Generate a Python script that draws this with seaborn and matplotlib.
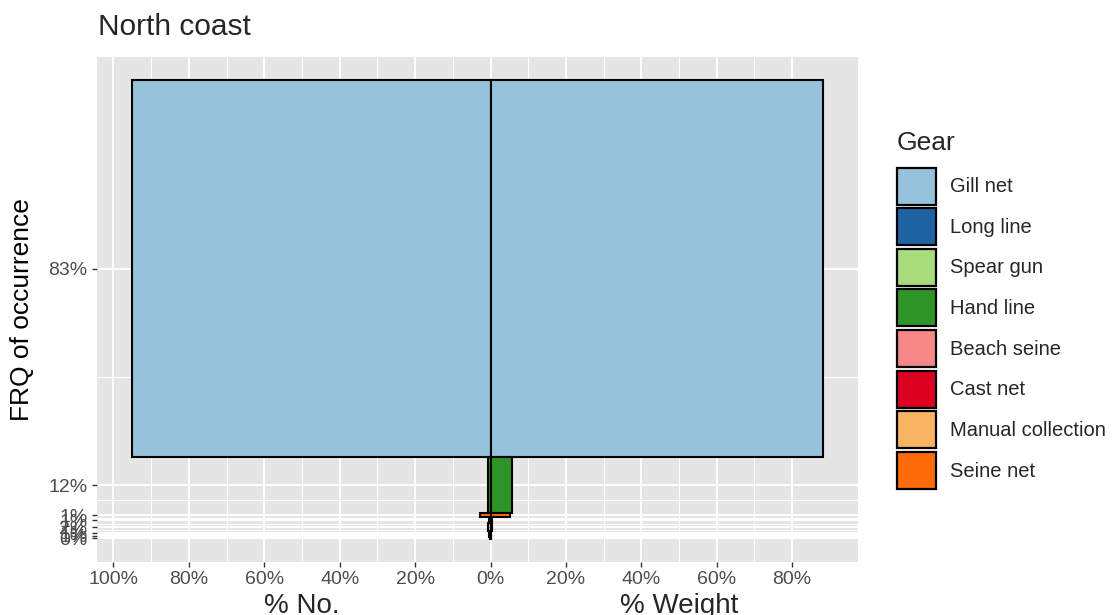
import numpy as np
import matplotlib
matplotlib.use("Agg")
import matplotlib.pyplot as plt
from matplotlib.patches import Patch
import seaborn as sns

# Gear categories (legend order)
gears = ["Gill net", "Long line", "Spear gun", "Hand line",
         "Beach seine", "Cast net", "Manual collection", "Seine net"]
gear_colors = ["#96C2DB", "#1F63A5", "#A7DB7B", "#2E9425",
               "#F78888", "#DB0020", "#F9B462", "#FF6B0B"]

# Order in which rectangles are stacked, top to bottom
stack_order = ["Gill net", "Hand line", "Seine net", "Long line",
               "Manual collection", "Beach seine", "Cast net", "Spear gun"]
# Frequency of occurrence (%) for each gear in stack_order
frq = [83.0, 12.3, 0.9, 1.3, 1.7, 0.8, 0.6, 0.4]
# % number (left side) and % weight (right side)
pct_no = [95.2, 0.7, 2.9, 0.4, 0.6, 0.3, 0.3, 0.2]
pct_weight = [88.3, 5.8, 5.1, 0.3, 0.5, 0.2, 0.2, 0.1]

x_ticks = [-100, -80, -60, -40, -20, 0, 20, 40, 60, 80]

sns.set_theme(style="darkgrid", rc={
    "axes.facecolor": "#E5E5E5",
    "grid.color": "white",
})
plt.rcParams["font.family"] = ["Liberation Sans", "DejaVu Sans"]

fig = plt.figure(figsize=(11.13, 6.15), dpi=100)
ax = fig.add_axes([97 / 1113, 1 - 562 / 615, (858 - 97) / 1113, (562 - 57) / 615])

# stacked vertical positions from the frequencies (top to bottom)
frq_arr = np.array(frq)
top = frq_arr.sum() - np.concatenate([[0], np.cumsum(frq_arr)[:-1]])
mid = top - frq_arr / 2
color_of = dict(zip(gears, gear_colors))
cols = [color_of[g] for g in stack_order]

ax.barh(mid, -np.array(pct_no), height=frq_arr, left=0, color=cols,
        edgecolor="black", linewidth=1.5, zorder=3)
ax.barh(mid, pct_weight, height=frq_arr, left=0, color=cols,
        edgecolor="black", linewidth=1.5, zorder=3)

# limits with ggplot-like 5% expansion
xmin, xmax = -max(pct_no), max(pct_weight)
xr = xmax - xmin
ax.set_xlim(xmin - 0.05 * xr, xmax + 0.05 * xr)
ymax = frq_arr.sum()
ax.set_ylim(-0.05 * ymax, ymax * 1.05)

ax.set_xticks(x_ticks)
ax.set_xticklabels([f"{abs(v)}%" for v in x_ticks])
ax.set_yticks(mid)
ax.set_yticklabels([f"{int(round(v))}%" for v in frq])

# minor gridlines halfway between major ticks
ax.set_xticks([(a + b) / 2 for a, b in zip(x_ticks[:-1], x_ticks[1:])], minor=True)
ys = np.sort(mid)
ax.set_yticks((ys[:-1] + ys[1:]) / 2, minor=True)
ax.grid(which="major", color="white", linewidth=1.4, zorder=0)
ax.grid(which="minor", color="white", linewidth=0.7, zorder=0)
ax.set_axisbelow(True)

ax.tick_params(axis="both", which="major", length=3.75, width=1.0, color="#333333",
               labelsize=14, labelcolor="#4D4D4D", pad=3,
               bottom=True, left=True)
ax.tick_params(axis="both", which="minor", length=0)
for s in ax.spines.values():
    s.set_visible(False)

ax.set_ylabel("FRQ of occurrence", fontsize=19, color="black")
ax.yaxis.set_label_coords(-0.083, 0.5)

fig.text(98 / 1113, 1 - 35 / 615, "North coast", fontsize=21.5, va="baseline", ha="left")
fig.text(302 / 1113, 1 - 613 / 615, "% No.", fontsize=20, va="baseline", ha="center")
fig.text(679 / 1113, 1 - 613 / 615, "% Weight", fontsize=20, va="baseline", ha="center")

handles = [Patch(facecolor=c, edgecolor="black", linewidth=1.6, label=g)
           for g, c in zip(gears, gear_colors)]
leg = fig.legend(handles=handles, title="Gear", loc="upper left",
                 bbox_to_anchor=(893 / 1113, 1 - 127 / 615), frameon=False,
                 fontsize=14.5, title_fontsize=19, alignment="left",
                 handlelength=1.94, handleheight=2.45, labelspacing=0.18,
                 handletextpad=0.7, borderaxespad=0, borderpad=0.2)
leg._legend_box.sep = 9

fig.savefig("out.png", dpi=100)
